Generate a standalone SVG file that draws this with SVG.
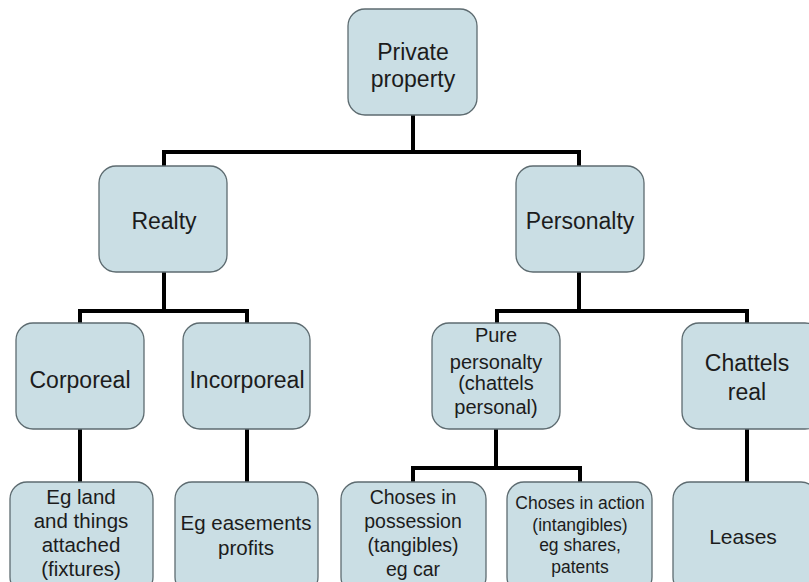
<svg xmlns="http://www.w3.org/2000/svg" width="809" height="582" viewBox="0 0 809 582">
<style>
.box{fill:#cadee4;stroke:#5d6b70;stroke-width:1.3}
.t{font-family:"Liberation Sans",Arial,sans-serif;fill:#1c1c1c;text-anchor:middle}
.c{fill:none;stroke:#000;stroke-width:4;stroke-linecap:square}
</style>
<rect width="809" height="582" fill="#fff"/>
<g id="connectors">
<path class="c" d="M413,115V152M164,152H579M164,152V166M579,152V166"/>
<path class="c" d="M164,272V311M80,311H247M80,311V323M247,311V323"/>
<path class="c" d="M579,272V311M497,311H747M497,311V323M747,311V323"/>
<path class="c" d="M80,429V482M247,429V482"/>
<path class="c" d="M496,429V468M413,468H580M413,468V482M580,468V482"/>
<path class="c" d="M747,429V482"/>
</g>
<g id="private-property">
<rect class="box" x="348" y="9" width="129" height="106" rx="17"/>
<text class="t" font-size="23"><tspan x="413" y="60">Private</tspan><tspan x="413" y="87">property</tspan></text>
</g>
<g id="realty">
<rect class="box" x="99" y="166" width="128" height="106" rx="17"/>
<text class="t" font-size="23" x="164" y="229">Realty</text>
</g>
<g id="personalty">
<rect class="box" x="516" y="166" width="128" height="106" rx="17"/>
<text class="t" font-size="23" x="580" y="229">Personalty</text>
</g>
<g id="corporeal">
<rect class="box" x="16" y="323" width="128" height="106" rx="17"/>
<text class="t" font-size="23" x="80" y="388">Corporeal</text>
</g>
<g id="incorporeal">
<rect class="box" x="183" y="323" width="127" height="106" rx="17"/>
<text class="t" font-size="23" x="247" y="388">Incorporeal</text>
</g>
<g id="pure-personalty">
<rect class="box" x="432" y="323" width="128" height="106" rx="17"/>
<text class="t" font-size="20"><tspan x="496" y="342">Pure</tspan><tspan x="496" y="369">personalty</tspan><tspan x="496" y="390">(chattels</tspan><tspan x="496" y="414">personal)</tspan></text>
</g>
<g id="chattels-real">
<rect class="box" x="682" y="323" width="140" height="106" rx="17"/>
<text class="t" font-size="23"><tspan x="747" y="371">Chattels</tspan><tspan x="747" y="400">real</tspan></text>
</g>
<g id="eg-land">
<rect class="box" x="10" y="482" width="143" height="112" rx="17"/>
<text class="t" font-size="20.5"><tspan x="81" y="504">Eg land</tspan><tspan x="81" y="528">and things</tspan><tspan x="81" y="552">attached</tspan><tspan x="81" y="576">(fixtures)</tspan></text>
</g>
<g id="eg-easements">
<rect class="box" x="175" y="482" width="143" height="112" rx="17"/>
<text class="t" font-size="20.5"><tspan x="246" y="530">Eg easements</tspan><tspan x="246" y="555">profits</tspan></text>
</g>
<g id="choses-possession">
<rect class="box" x="341" y="482" width="145" height="112" rx="17"/>
<text class="t" font-size="19.5"><tspan x="413" y="504">Choses in</tspan><tspan x="413" y="528">possession</tspan><tspan x="413" y="552">(tangibles)</tspan><tspan x="413" y="576">eg car</tspan></text>
</g>
<g id="choses-action">
<rect class="box" x="507" y="482" width="145" height="112" rx="17"/>
<text class="t" font-size="17.5"><tspan x="580" y="509">Choses in action</tspan><tspan x="580" y="531">(intangibles)</tspan><tspan x="580" y="551">eg shares,</tspan><tspan x="580" y="573">patents</tspan></text>
</g>
<g id="leases">
<rect class="box" x="673" y="482" width="145" height="112" rx="17"/>
<text class="t" font-size="21" x="743" y="544">Leases</text>
</g>
</svg>
